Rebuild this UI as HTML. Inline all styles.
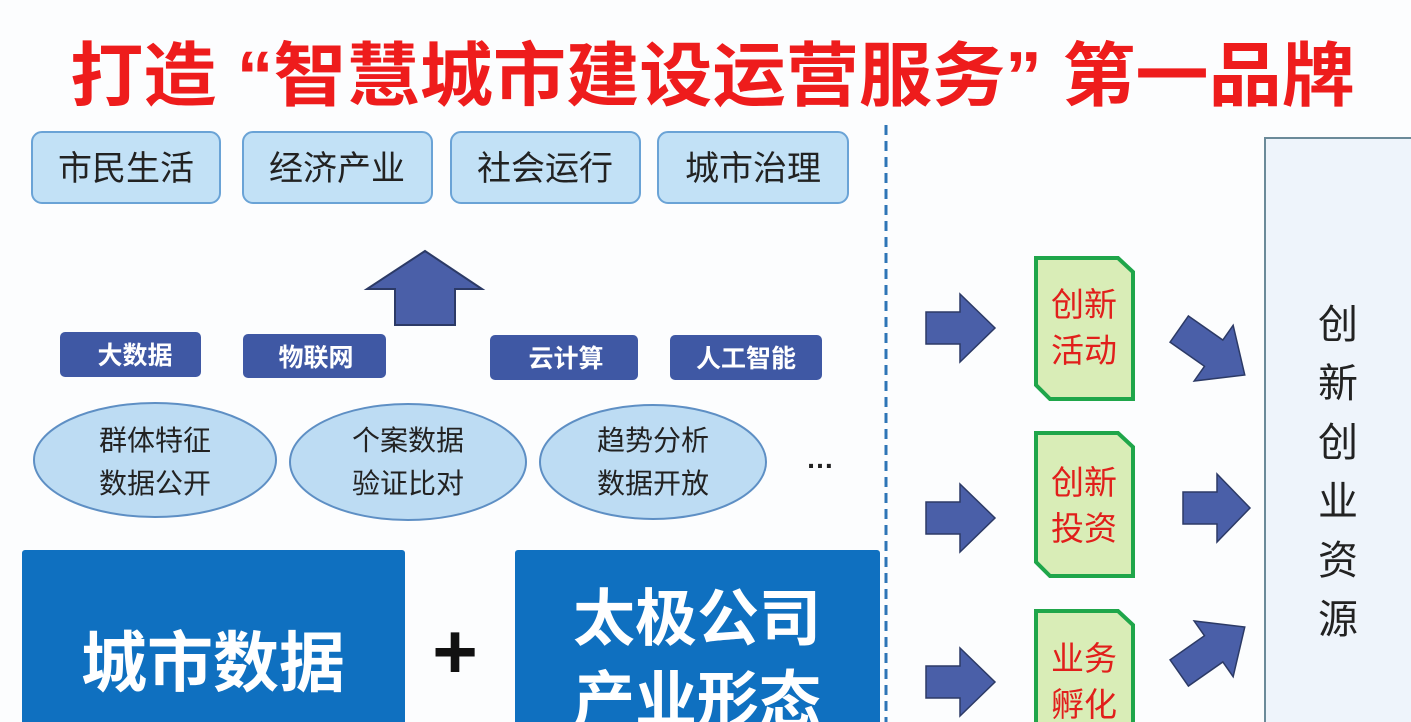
<!DOCTYPE html>
<html><head><meta charset="utf-8"><style>
html,body{margin:0;padding:0;background:#fff;width:1411px;height:722px;overflow:hidden}
svg{display:block}
text{font-family:"Liberation Sans","Noto Sans CJK SC",sans-serif}
</style></head><body>
<svg width="1411" height="722" viewBox="0 0 1411 722" xmlns="http://www.w3.org/2000/svg">
<rect width="1411" height="722" fill="#fcfdfe"/>
<text x="70" y="100" font-size="70" font-weight="bold" fill="#ee1c1c" textLength="1285" lengthAdjust="spacingAndGlyphs">打造 “智慧城市建设运营服务” 第一品牌</text>

<g fill="#c2e1f6" stroke="#6aa3d6" stroke-width="2">
<rect x="32" y="132" width="188" height="71" rx="10"/>
<rect x="243" y="132" width="189" height="71" rx="10"/>
<rect x="451" y="132" width="189" height="71" rx="10"/>
<rect x="658" y="132" width="190" height="71" rx="10"/>
</g>
<g font-size="34" fill="#222" text-anchor="middle">
<text x="126" y="180">市民生活</text>
<text x="337" y="180">经济产业</text>
<text x="545" y="180">社会运行</text>
<text x="753" y="180">城市治理</text>
</g>

<polygon points="425,251 482,289 455,289 455,325 395,325 395,289 367,289" fill="#4a5fa8" stroke="#2c3a66" stroke-width="2"/>

<g fill="#3f58a4">
<rect x="60" y="332" width="141" height="45" rx="5"/>
<rect x="243" y="334" width="143" height="44" rx="5"/>
<rect x="490" y="335" width="148" height="45" rx="5"/>
<rect x="670" y="335" width="152" height="45" rx="5"/>
</g>
<g font-size="25" font-weight="bold" fill="#fff" text-anchor="middle">
<text x="135" y="364">大数据</text>
<text x="316" y="366">物联网</text>
<text x="566" y="367">云计算</text>
<text x="746" y="367">人工智能</text>
</g>

<g fill="#bddcf3" stroke="#5e8fc4" stroke-width="2">
<ellipse cx="155" cy="460" rx="121" ry="57"/>
<ellipse cx="408" cy="462" rx="118" ry="58"/>
<ellipse cx="653" cy="462" rx="113" ry="57"/>
</g>
<g font-size="28" fill="#222" text-anchor="middle">
<text x="155" y="450">群体特征</text><text x="155" y="493">数据公开</text>
<text x="408" y="450">个案数据</text><text x="408" y="493">验证比对</text>
<text x="653" y="450">趋势分析</text><text x="653" y="493">数据开放</text>
</g>
<text x="820" y="468" font-size="28" font-weight="bold" fill="#222" text-anchor="middle">…</text>

<rect x="22" y="550" width="383" height="180" rx="3" fill="#0f70c0"/>
<rect x="515" y="550" width="365" height="180" rx="3" fill="#0f70c0"/>
<text x="213" y="686" font-size="66" font-weight="bold" fill="#fff" text-anchor="middle">城市数据</text>
<text x="697" y="640" font-size="62" font-weight="bold" fill="#fff" text-anchor="middle">太极公司</text>
<text x="697" y="722" font-size="62" font-weight="bold" fill="#fff" text-anchor="middle">产业形态</text>
<text x="455" y="678" font-size="78" font-weight="bold" fill="#111" text-anchor="middle">+</text>

<line x1="886" y1="125" x2="886" y2="722" stroke="#2e75b6" stroke-width="3" stroke-dasharray="10,6"/>

<g fill="#4a5fa8" stroke="#2c3a66" stroke-width="1.5">
<polygon points="926,312 960,312 960,294 995,328 960,362 960,344 926,344"/>
<polygon points="926,502 960,502 960,484 995,518 960,552 960,534 926,534"/>
<polygon points="926,666 960,666 960,648 995,682 960,716 960,698 926,698"/>
<polygon points="1183,492 1217,492 1217,474 1250,508 1217,542 1217,524 1183,524"/>
<polygon transform="translate(1212,352) rotate(35)" points="-40,-16 2,-16 2,-34 40,0 2,34 2,16 -40,16"/>
<polygon transform="translate(1212,650) rotate(-35)" points="-40,-16 2,-16 2,-34 40,0 2,34 2,16 -40,16"/>
</g>

<g fill="#d9edb7" stroke="#1fa64a" stroke-width="4">
<polygon points="1036,258 1118,258 1133,272 1133,399 1050,399 1036,385"/>
<polygon points="1036,433 1118,433 1133,447 1133,576 1050,576 1036,562"/>
<polygon points="1036,611 1118,611 1133,625 1133,740 1036,740"/>
</g>
<g font-size="33" fill="#e11f1b" text-anchor="middle">
<text x="1084" y="316">创新</text><text x="1084" y="362">活动</text>
<text x="1084" y="494">创新</text><text x="1084" y="540">投资</text>
<text x="1084" y="670">业务</text><text x="1084" y="716">孵化</text>
</g>

<rect x="1265" y="138" width="160" height="600" fill="#eef4fb" stroke="#6b8a99" stroke-width="2"/>
<g font-size="40" fill="#222" text-anchor="middle">
<text x="1338" y="338">创</text>
<text x="1338" y="397">新</text>
<text x="1338" y="456">创</text>
<text x="1338" y="515">业</text>
<text x="1338" y="574">资</text>
<text x="1338" y="633">源</text>
</g>
</svg>
</body></html>
